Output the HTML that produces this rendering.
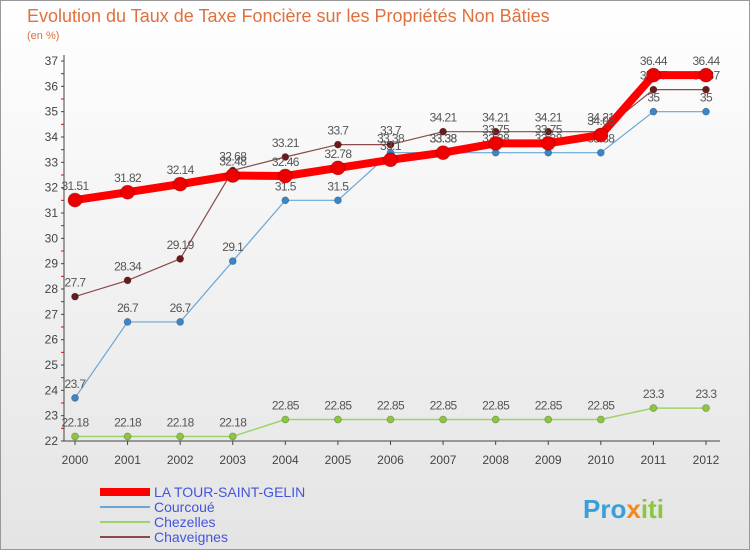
<!DOCTYPE html>
<html><head><meta charset="utf-8"><style>
body{margin:0;width:750px;height:550px;overflow:hidden;font-family:"Liberation Sans",sans-serif}
</style></head><body>
<svg id="chart" width="750" height="550" xmlns="http://www.w3.org/2000/svg">
<defs><linearGradient id="bg" x1="0" y1="0" x2="0" y2="1"><stop offset="0" stop-color="#ffffff"/><stop offset="1" stop-color="#e4e4e4"/></linearGradient></defs>
<rect width="750" height="550" fill="url(#bg)"/>
<rect x="0.5" y="0.5" width="749" height="549" fill="none" stroke="#999"/>
<text x="27" y="22" font-size="18" fill="#e0703c">Evolution du Taux de Taxe Foncière sur les Propriétés Non Bâties</text>
<text x="27" y="39" font-size="11" fill="#e0703c">(en %)</text>
<g id="axes"></g><g id="series"></g><g id="legend"></g>
<text x="583" y="518" font-size="26" font-weight="bold" fill="#3a9fd8">Pro<tspan fill="#f08a1c">x</tspan><tspan fill="#8cc63f">iti</tspan></text>
</svg>
<script>
const years=[2000,2001,2002,2003,2004,2005,2006,2007,2008,2009,2010,2011,2012];
const yTicks=[22,23,24,25,26,27,28,29,30,31,32,33,34,35,36,37];
const laTour=[31.51,31.82,32.14,32.48,32.46,32.78,33.1,33.38,33.75,33.75,34.08,36.44,36.44];
const courcoue=[23.7,26.7,26.7,29.1,31.5,31.5,33.38,33.38,33.38,33.38,33.38,35,35];
const chezelles=[22.18,22.18,22.18,22.18,22.85,22.85,22.85,22.85,22.85,22.85,22.85,23.3,23.3];
const chaveignes=[27.7,28.34,29.19,32.68,33.21,33.7,33.7,34.21,34.21,34.21,34.21,35.87,35.87];
const NS="http://www.w3.org/2000/svg";
const X=i=>75+i*(706-75)/12;
const Y=v=>441-(v-22)*(441-61)/15;
function mk(t,a,p){const e=document.createElementNS(NS,t);for(const k in a)e.setAttribute(k,a[k]);p.appendChild(e);return e;}
const ax=document.getElementById('axes');
let e=mk('line',{x1:64,y1:55,x2:64,y2:441,stroke:'#444'},ax);

e=mk('line',{x1:64,y1:441,x2:720,y2:441,stroke:'#444'},ax);

yTicks.forEach(v=>{
 const t=mk('text',{x:58,y:Y(v)+4,'font-size':12,'text-anchor':'end',fill:'#444'},ax);t.textContent=v;
 
 const m=mk('line',{x1:61,x2:64,y1:Y(v),y2:Y(v),stroke:'#444'},ax);
 
 if(v<37){const h=mk('line',{x1:61,x2:64,y1:Y(v+0.5),y2:Y(v+0.5),stroke:'#e00'},ax);
 }
});
years.forEach((y,i)=>{
 const t=mk('text',{x:X(i),y:464,'font-size':12,'text-anchor':'middle',fill:'#444'},ax);t.textContent=y;
 
 const m=mk('line',{x1:X(i),x2:X(i),y1:441,y2:445,stroke:'#444'},ax);
 
});
const sg=document.getElementById('series');
function series(vals,name,color,w,r,dot){
 const g=mk('g',{},sg);
 const l=mk('polyline',{points:vals.map((v,i)=>X(i)+','+Y(v)).join(' '),fill:'none',stroke:color,'stroke-width':w,'stroke-linejoin':'round'},g);
 
 vals.forEach((v,i)=>{
  const c=mk('circle',{cx:X(i),cy:Y(v),r:r,fill:dot,stroke:'rgba(0,0,0,0.25)','stroke-width':0.8},g);
  
  const t=mk('text',{x:X(i),y:Y(v)-10,'font-size':12,'text-anchor':'middle',fill:'#555','letter-spacing':'-0.6'},g);t.textContent=v;
  
 });
}
series(chezelles,'chezelles','#9ed36a',1.5,3.5,'#8cc63f');
series(courcoue,'courcoue','#6aa6d6',1.2,3.5,'#3a86c8');
series(chaveignes,'chaveignes','#8a4a4a',1.2,3.5,'#6a1a1a');
series(laTour,'la-tour-saint-gelin','#ff0000',8,7,'#ee0000');
const lg=document.getElementById('legend');
[['LA TOUR-SAINT-GELIN','#ff0000',8],['Courcoué','#6aa6d6',2],['Chezelles','#9ed36a',2],['Chaveignes','#8a4a4a',2]].forEach((d,i)=>{
 const y=492+i*15;
 const l=mk('line',{x1:100,x2:150,y1:y,y2:y,stroke:d[1],'stroke-width':d[2]},lg);
 
 const t=mk('text',{x:154,y:y+5,'font-size':14,fill:'#4455dd'},lg);t.textContent=d[0];
 
});
</script>
</body></html>
